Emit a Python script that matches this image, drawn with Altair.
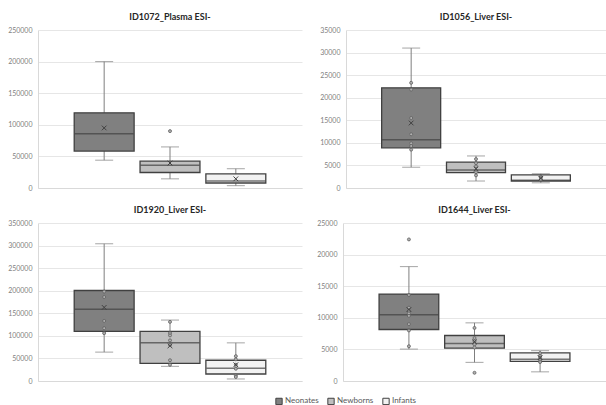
import altair as alt
import pandas as pd

groups = ["Neonates", "Newborns", "Infants"]
fills = ["#808080", "#bfbfbf", "#f2f2f2"]

titles = ["ID1072_Plasma ESI-", "ID1056_Liver ESI-", "ID1920_Liver ESI-", "ID1644_Liver ESI-"]
y_max = [250000, 35000, 350000, 25000]
y_step = [50000, 5000, 50000, 5000]

# Panel 1: ID1072_Plasma ESI-
p1_lo = [44000, 14500, 3700]
p1_q1 = [58500, 24500, 7900]
p1_med = [86000, 36000, 11000]
p1_q3 = [119000, 42500, 22500]
p1_hi = [200000, 65000, 30500]
p1_mean = [95000, 39500, 14500]
p1_pts = [[], [90000], []]

# Panel 2: ID1056_Liver ESI-
p2_lo = [4600, 1550, 1150]
p2_q1 = [8900, 3400, 1550]
p2_med = [10700, 4000, 1700]
p2_q3 = [22200, 5750, 2900]
p2_hi = [31000, 7100, 3150]
p2_mean = [14400, 4250, 2150]
p2_pts = [[23300, 21800, 15500, 11900, 9900, 9300, 8500],
          [6400, 5500, 4800, 3500, 2800],
          [2500, 2300, 1900]]

# Panel 3: ID1920_Liver ESI-
p3_lo = [64000, 32500, 4500]
p3_q1 = [110000, 39000, 15500]
p3_med = [159000, 85000, 28500]
p3_q3 = [200500, 110000, 46000]
p3_hi = [304000, 135000, 84500]
p3_mean = [163000, 78000, 36000]
p3_pts = [[198000, 186000, 133000, 117000, 106000],
          [131000, 106000, 101000, 90000, 80000, 46000, 36000],
          [55000, 48000, 36000, 27000, 12000, 9000]]

# Panel 4: ID1644_Liver ESI-
p4_lo = [5050, 2950, 1450]
p4_q1 = [8150, 5200, 3100]
p4_med = [10500, 5950, 3450]
p4_q3 = [13750, 7200, 4450]
p4_hi = [18100, 9200, 4800]
p4_mean = [11300, 6200, 3700]
p4_pts = [[22400, 13600, 11600, 11100, 10700, 10300, 9000, 8000, 5500],
          [8400, 6800, 6300, 5800, 5300, 1300],
          [4400, 4000, 3700, 3300, 3000]]

panels = [
    (p1_lo, p1_q1, p1_med, p1_q3, p1_hi, p1_mean, p1_pts),
    (p2_lo, p2_q1, p2_med, p2_q3, p2_hi, p2_mean, p2_pts),
    (p3_lo, p3_q1, p3_med, p3_q3, p3_hi, p3_mean, p3_pts),
    (p4_lo, p4_q1, p4_med, p4_q3, p4_hi, p4_mean, p4_pts),
]

FONT = "Lato"
DARK = "#404040"
WHISK = "#7f7f7f"
XSHAPE = "M-1,-1L1,1M-1,1L1,-1"


def make_panel(i, width, show_legend):
    lo, q1, med, q3, hi, mean, pts = panels[i]
    stats = pd.DataFrame({"series": groups, "lo": lo, "q1": q1, "med": med,
                          "q3": q3, "hi": hi, "mean": mean})
    prow = [{"series": g, "v": v} for g, vals in zip(groups, pts) for v in vals]
    pdf = pd.DataFrame(prow)

    xenc = alt.X("series:N", sort=groups,
                 scale=alt.Scale(domain=groups, paddingInner=0.09, paddingOuter=0.55),
                 axis=alt.Axis(labels=False, ticks=False, title=None, grid=False,
                               domainColor="#d9d9d9"))
    yscale = alt.Scale(domain=[0, y_max[i]], nice=False, zero=True)
    yaxis = alt.Axis(values=list(range(0, y_max[i] + 1, y_step[i])), format="d",
                     title=None, ticks=False, labelPadding=6, labelFontSize=7,
                     labelColor="#7f7f7f", labelFont=FONT, gridColor="#e6e6e6",
                     domainColor="#d9d9d9", minExtent=36, maxExtent=36)

    def Y(f):
        return alt.Y(f, scale=yscale, axis=yaxis)

    base = alt.Chart(stats)
    whisker = base.mark_rule(color=WHISK, strokeWidth=1).encode(
        x=xenc, y=Y("lo:Q"), y2="hi:Q")
    cap_lo = base.mark_tick(color=WHISK, size=18, thickness=1).encode(
        x=xenc, y=Y("lo:Q"))
    cap_hi = base.mark_tick(color=WHISK, size=18, thickness=1).encode(
        x=xenc, y=Y("hi:Q"))
    legend = alt.Legend(title=None) if show_legend else None
    box = base.mark_bar(stroke=DARK, strokeWidth=1.3).encode(
        x=xenc, y=Y("q1:Q"), y2="q3:Q",
        color=alt.Color("series:N", sort=groups,
                        scale=alt.Scale(domain=groups, range=fills), legend=legend))
    median = base.mark_tick(color=DARK, size=59, thickness=1.5).encode(
        x=xenc, y=Y("med:Q"))
    layers = [whisker, cap_lo, cap_hi, box, median]
    if len(pdf):
        points = alt.Chart(pdf).mark_point(shape="circle", size=9, filled=True,
                                            fill="#b0b0b0", stroke="#606060",
                                            strokeWidth=0.8, opacity=1).encode(
            x=xenc, y=Y("v:Q"))
        layers.append(points)
    meanm = base.mark_point(shape=XSHAPE, size=22, filled=False, stroke=DARK,
                            strokeWidth=1, opacity=1).encode(
        x=xenc, y=Y("mean:Q"))
    layers.append(meanm)

    return alt.layer(*layers).properties(
        width=width, height=158,
        title=alt.TitleParams(titles[i], fontSize=9, fontWeight="bold", color="#262626",
                              font=FONT, anchor="middle", offset=4))


row1 = alt.hconcat(make_panel(0, 264, True), make_panel(1, 260, False), spacing=8)
row2 = alt.hconcat(make_panel(2, 264, False), make_panel(3, 263, False), spacing=5)

chart = alt.vconcat(row1, row2, spacing=15).properties(
    padding={"left": 2, "top": 13, "right": 0, "bottom": 0}
).configure_view(stroke=None).configure_legend(
    orient="none", legendX=237, legendY=367, direction="horizontal",
    symbolType="square", symbolSize=40, symbolStrokeColor=DARK, symbolStrokeWidth=1,
    labelFontSize=8, labelColor="#595959", labelFont=FONT, columnPadding=6,
    symbolOffset=0, labelOffset=2
).configure_axis(labelFont=FONT)

chart.save("out.html", embed_options={"renderer": "svg", "actions": False})
